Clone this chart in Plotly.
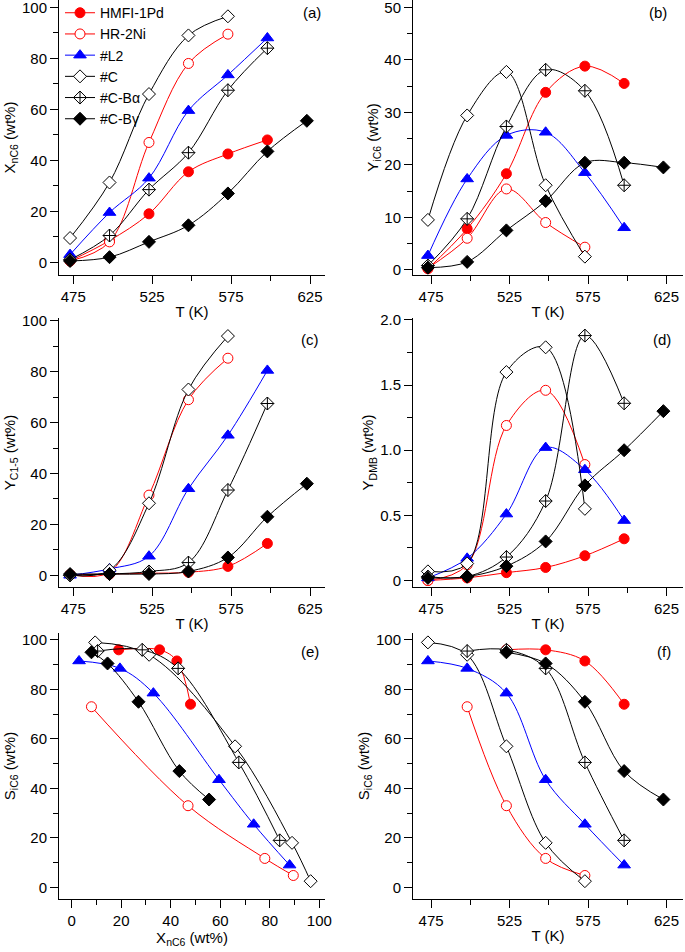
import plotly.graph_objects as go

# ---------------- data ----------------
names = ["HMFI-1Pd", "HR-2Ni", "#L2", "#C", "#C-B\u03b1", "#C-B\u03b3"]

hmfi_T = [473, 498, 523, 548, 573, 598]
hmfi_X = [0.5, 8.5, 19, 35.5, 42.5, 48]
hmfi_YiC6 = [0.2, 7.8, 18.3, 33.8, 38.8, 35.5]
hmfi_YC15 = [0.2, 0.5, 0.8, 1.2, 3.5, 12.5]
hmfi_YDMB = [0.0, 0.02, 0.06, 0.10, 0.19, 0.32]
hmfi_S = [None, None, 96, 96, 91.5, 74]

hr_T = [473, 498, 523, 548, 573]
hr_X = [0.5, 8, 47, 78, 89.5]
hr_YiC6 = [0.3, 6, 15.4, 9, 4.3]
hr_YC15 = [0.3, 1.2, 31.5, 69, 85.3]
hr_YDMB = [0.0, 0.12, 1.19, 1.46, 0.89]
hr_S = [None, 73, 33, 11.7, 4.8]

l2_T = [473, 498, 523, 548, 573, 598]
l2_X = [3, 19.5, 33, 59.5, 73.5, 88]
l2_YiC6 = [2.7, 17.3, 25.6, 26.2, 18.5, 8]
l2_YC15 = [0, 2.5, 7.5, 34, 55, 80.5]
l2_YDMB = [0.02, 0.17, 0.51, 1.02, 0.85, 0.46]
l2_S = [91.5, 88.5, 78.5, 43.5, 25.5, 9]

c_T = [473, 498, 523, 548, 573]
c_X = [9.5, 31.3, 66, 89, 96.5]
c_YiC6 = [9.5, 29.4, 37.7, 16.1, 2.5]
c_YC15 = [0, 2, 28.3, 73, 94]
c_YDMB = [0.07, 0.13, 1.6, 1.79, 0.55]
c_S = [99, 94, 57, 18, 2.5]

ca_T = [473, 498, 523, 548, 573, 598]
ca_X = [1, 10.5, 28.5, 43, 67.5, 84]
ca_YiC6 = [0.8, 9.7, 27.3, 38.1, 34.1, 16.1]
ca_YC15 = [0, 0.5, 1.5, 5, 33.5, 67.5]
ca_YDMB = [0.03, 0.03, 0.18, 0.61, 1.88, 1.36]
ca_S = [None, 95.5, 96, 88.5, 50.5, 19]

cg_T = [473, 498, 523, 548, 573, 598, 623]
cg_X = [0.5, 2, 8, 14.5, 27, 43.5, 55.5]
cg_YiC6 = [0.4, 1.5, 7.5, 13.1, 20.4, 20.4, 19.5]
cg_YC15 = [0.5, 0.5, 0.5, 1.5, 7, 23, 36]
cg_YDMB = [0.02, 0.03, 0.11, 0.30, 0.73, 1.0, 1.3]
cg_S = [None, None, 95, 90.5, 75, 47, 35.5]

# tick labels of the DMB panel
dmb_ticks = [0, 0.5, 1.0, 1.5, 2.0]
dmb_ticktext = ["0", "0.5", "1.0", "1.5", "2.0"]

series = [
    dict(T=hmfi_T, X=hmfi_X, Yi=hmfi_YiC6, Yc=hmfi_YC15, Yd=hmfi_YDMB, S=hmfi_S),
    dict(T=hr_T, X=hr_X, Yi=hr_YiC6, Yc=hr_YC15, Yd=hr_YDMB, S=hr_S),
    dict(T=l2_T, X=l2_X, Yi=l2_YiC6, Yc=l2_YC15, Yd=l2_YDMB, S=l2_S),
    dict(T=c_T, X=c_X, Yi=c_YiC6, Yc=c_YC15, Yd=c_YDMB, S=c_S),
    dict(T=ca_T, X=ca_X, Yi=ca_YiC6, Yc=ca_YC15, Yd=ca_YDMB, S=ca_S),
    dict(T=cg_T, X=cg_X, Yi=cg_YiC6, Yc=cg_YC15, Yd=cg_YDMB, S=cg_S),
]

# ---------------- styles ----------------
styles = [
    dict(line="#FF0000", marker=dict(symbol="circle", size=10, color="#FF0000", line=dict(color="#FF0000", width=1))),
    dict(line="#FF0000", marker=dict(symbol="circle", size=10, color="white", line=dict(color="#FF0000", width=1))),
    dict(line="#0000FF", marker=dict(symbol="triangle-up", size=11, color="#0000FF", line=dict(color="#0000FF", width=1))),
    dict(line="#000000", marker=dict(symbol="diamond", size=10, color="white", line=dict(color="black", width=1))),
    dict(line="#000000", marker=dict(symbol="diamond-cross", size=10, color="white", line=dict(color="black", width=1))),
    dict(line="#000000", marker=dict(symbol="diamond", size=10, color="black", line=dict(color="black", width=1))),
]

FONT = "Arial, Liberation Sans, sans-serif"
fig = go.Figure()


def add(i, x, y, p, legend=False):
    st = styles[i]
    fig.add_trace(go.Scatter(
        x=x, y=y, mode="lines+markers", name=names[i],
        line=dict(color=st["line"], width=1, shape="spline", smoothing=1.0),
        marker=st["marker"], showlegend=legend,
        xaxis="x" + p, yaxis="y" + p, cliponaxis=False,
    ))


for i, s in enumerate(series):
    add(i, s["T"], s["X"], "", legend=True)
    add(i, s["T"], s["Yi"], "2")
    add(i, s["T"], s["Yc"], "3")
    add(i, s["T"], s["Yd"], "4")
    xe = [xv for xv, sv in zip(s["X"], s["S"]) if sv is not None]
    ye = [sv for sv in s["S"] if sv is not None]
    add(i, xe, ye, "5")
    te = [tv for tv, sv in zip(s["T"], s["S"]) if sv is not None]
    add(i, te, ye, "6")

W, H = 685, 952


def dx(a, b):
    return [a / W, b / W]


def dy(top, bot):
    return [1 - bot / H, 1 - top / H]


left = dx(59, 325)
right = dx(413, 683)
rows = [dy(0, 275), dy(318, 587), dy(633, 899)]


def xax(domain, rng, anchor, title, tick0, dtick, minor):
    return dict(domain=domain, range=rng, anchor=anchor, showline=True, linecolor="black",
                linewidth=1, ticks="outside", ticklen=8, tickwidth=1, tickcolor="black",
                tick0=tick0, dtick=dtick, showgrid=False, zeroline=False, automargin=False,
                ticklabeloverflow="allow",
                minor=dict(ticks="outside", ticklen=5, dtick=minor, tick0=tick0, tickcolor="black", showgrid=False),
                tickfont=dict(size=15, color="black", family=FONT),
                title=dict(text=title, font=dict(size=15, color="black", family=FONT), standoff=2))


def yax(domain, rng, anchor, title, dtick, minor):
    return dict(domain=domain, range=rng, anchor=anchor, showline=True, linecolor="black",
                linewidth=1, ticks="outside", ticklen=8, tickwidth=1, tickcolor="black",
                tick0=0, dtick=dtick, showgrid=False, zeroline=False, automargin=False,
                ticklabeloverflow="allow",
                minor=dict(ticks="outside", ticklen=5, dtick=minor, tick0=0, tickcolor="black", showgrid=False),
                tickfont=dict(size=15, color="black", family=FONT),
                title=dict(text=title, font=dict(size=15, color="black", family=FONT), standoff=2))


LR = [466, 634.5]
RR = [463.5, 635.5]
y4 = yax(rows[1], [-0.05, 2.015], "x4", "Y<sub>DMB</sub> (wt%)", 0.5, 0.25)
y4.update(tickmode="array", tickvals=dmb_ticks, ticktext=dmb_ticktext)

fig.update_layout(
    xaxis=xax(left, LR, "y", "T (K)", 475, 50, 25),
    yaxis=yax(rows[0], [-5, 102.9], "x", "X<sub>nC6</sub> (wt%)", 20, 10),
    xaxis2=xax(right, RR, "y2", "T (K)", 475, 50, 25),
    yaxis2=yax(rows[0], [-1, 51.4], "x2", "Y<sub>iC6</sub> (wt%)", 10, 5),
    xaxis3=xax(left, LR, "y3", "T (K)", 475, 50, 25),
    yaxis3=yax(rows[1], [-4.6, 101.1], "x3", "Y<sub>C1-5</sub> (wt%)", 20, 10),
    xaxis4=xax(right, RR, "y4", "T (K)", 475, 50, 25),
    yaxis4=y4,
    xaxis5=xax(left, [-5.1, 102.3], "y5", "X<sub>nC6</sub> (wt%)", 0, 20, 10),
    yaxis5=yax(rows[2], [-4.7, 102.8], "x5", "S<sub>iC6</sub> (wt%)", 20, 10),
    xaxis6=xax(right, RR, "y6", "T (K)", 475, 50, 25),
    yaxis6=yax(rows[2], [-4.7, 102.8], "x6", "S<sub>iC6</sub> (wt%)", 20, 10),
)

labels = [("(a)", 323, 13), ("(b)", 669, 13), ("(c)", 321, 339),
          ("(d)", 673, 339), ("(e)", 321, 651), ("(f)", 673, 651)]
for txt, px, py in labels:
    fig.add_annotation(text=txt, x=px / W, y=1 - py / H, xref="paper", yref="paper",
                       xanchor="right", yanchor="middle", showarrow=False,
                       font=dict(size=15, color="black", family=FONT))

fig.update_layout(
    width=W, height=H, margin=dict(l=0, r=0, t=0, b=0, autoexpand=False),
    paper_bgcolor="white", plot_bgcolor="white",
    font=dict(family=FONT, color="black", size=14),
    legend=dict(x=60 / W, y=1.003, xanchor="left", yanchor="top", bgcolor="rgba(0,0,0,0)",
                font=dict(size=14, family=FONT, color="black"), tracegroupgap=0,
                itemwidth=30),
)

fig.write_html("out.html", config={"displayModeBar": False},
               post_script="document.body.style.margin='0';document.body.style.overflow='hidden';")
